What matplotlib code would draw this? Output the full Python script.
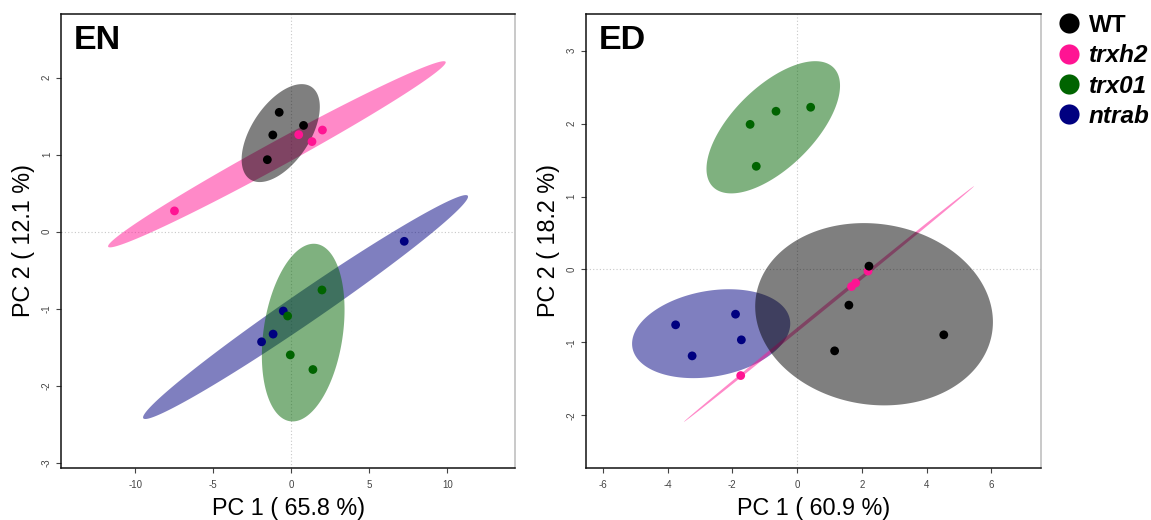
import numpy as np
import matplotlib
matplotlib.use("Agg")
import matplotlib.pyplot as plt
from matplotlib.patches import Polygon
from matplotlib.lines import Line2D

plt.rcParams['font.family'] = ['Liberation Sans', 'DejaVu Sans']
plt.rcParams['axes.unicode_minus'] = False

groups = ['WT', 'trxh2', 'trx01', 'ntrab']
group_colors = ['#000000', '#FF1493', '#006400', '#000080']

# EN: sample scores on the first two components
en_pc1 = {
    'WT':    [-0.78, 0.78, -1.19, -1.54],
    'trxh2': [-7.49, 0.47, 1.32, 1.99],
    'trx01': [1.96, -0.24, -0.07, 1.38],
    'ntrab': [7.23, -0.52, -1.17, -1.91],
}
en_pc2 = {
    'WT':    [1.55, 1.38, 1.256, 0.935],
    'trxh2': [0.27, 1.26, 1.17, 1.32],
    'trx01': [-0.757, -1.095, -1.60, -1.79],
    'ntrab': [-0.125, -1.03, -1.33, -1.43],
}

# ED: sample scores on the first two components
ed_pc1 = {
    'WT':    [2.22, 1.60, 1.16, 4.53],
    'trxh2': [-1.74, 1.68, 1.81, 2.19],
    'trx01': [-1.45, -0.65, 0.42, -1.26],
    'ntrab': [-3.75, -1.90, -1.72, -3.24],
}
ed_pc2 = {
    'WT':    [0.045, -0.49, -1.117, -0.897],
    'trxh2': [-1.456, -0.235, -0.185, -0.023],
    'trx01': [1.99, 2.17, 2.225, 1.415],
    'ntrab': [-0.76, -0.614, -0.966, -1.186],
}

en_var = [65.8, 12.1]
ed_var = [60.9, 18.2]

colors = dict(zip(groups, group_colors))
T95 = np.sqrt(-2.0 * np.log(0.05))  # sqrt(qchisq(0.95, 2))


def conf_ellipse(x, y, t=T95, n=300):
    x = np.asarray(x, float)
    y = np.asarray(y, float)
    cov = np.cov(x, y)
    sx, sy = np.sqrt(np.diag(cov))
    r = np.clip(cov[0, 1] / (sx * sy), -1, 1)
    d = np.arccos(r)
    a = np.linspace(0, 2 * np.pi, n)
    ex = t * sx * np.cos(a + d / 2) + x.mean()
    ey = t * sy * np.cos(a - d / 2) + y.mean()
    return np.column_stack([ex, ey])


def draw_panel(ax, pc1, pc2, var, title, xlim, ylim, xticks, yticks):
    ax.axhline(0, color='#c8c8c8', ls=(0, (1, 2)), lw=0.8, zorder=0)
    ax.axvline(0, color='#c8c8c8', ls=(0, (1, 2)), lw=0.8, zorder=0)
    for g in ['ntrab', 'trxh2', 'WT', 'trx01']:
        poly = Polygon(conf_ellipse(pc1[g], pc2[g]), closed=True,
                       facecolor=colors[g], edgecolor='none',
                       alpha=0.5, zorder=2)
        ax.add_patch(poly)
    for g in ['ntrab', 'trxh2', 'trx01', 'WT']:
        ax.scatter(pc1[g], pc2[g], s=40, color=colors[g], edgecolor='none',
                   zorder=4)
    ax.set_xlim(*xlim)
    ax.set_ylim(*ylim)
    ax.set_xticks(xticks)
    ax.set_yticks(yticks)
    ax.tick_params(axis='both', labelsize=7, colors='#444444', length=3.6,
                   width=0.8)
    ax.tick_params(axis='x', pad=5)
    ax.tick_params(axis='y', pad=3)
    for lab in ax.get_yticklabels():
        lab.set_rotation(90)
        lab.set_va('center')
    ax.set_xlabel(f'PC 1 ( {var[0]} %)', fontsize=16.8, labelpad=5)
    ax.set_ylabel(f'PC 2 ( {var[1]} %)', fontsize=16.8, labelpad=5)
    for side in ['left', 'bottom', 'top']:
        ax.spines[side].set_color('#111111')
        ax.spines[side].set_linewidth(1.1)
    ax.spines['right'].set_color('#bbbbbb')
    ax.spines['right'].set_linewidth(1.1)
    ax.text(0.028, 0.924, title, transform=ax.transAxes, fontsize=24.5,
            fontweight='bold', ha='left', va='baseline')


fig = plt.figure(figsize=(11.51, 5.2), dpi=100)
ax1 = fig.add_axes([0.05313, 0.10058, 0.39448, 0.87192])
ax2 = fig.add_axes([0.50904, 0.10058, 0.39505, 0.87192])

draw_panel(ax1, en_pc1, en_pc2, en_var, 'EN', (-14.75, 14.34), (-3.065, 2.823),
           [-10, -5, 0, 5, 10], [-3, -2, -1, 0, 1, 2])
draw_panel(ax2, ed_pc1, ed_pc2, ed_var, 'ED', (-6.52, 7.52), (-2.72, 3.50),
           [-6, -4, -2, 0, 2, 4, 6], [-2, -1, 0, 1, 2, 3])

handles = [Line2D([], [], ls='none', marker='o', markersize=14.5,
                  markerfacecolor=colors[g], markeredgecolor='none')
           for g in groups]
leg = fig.legend(handles, groups, loc='upper left',
                 bbox_to_anchor=(1057 / 1151, 1 - 14 / 520),
                 frameon=False, handlelength=1.0, handletextpad=0.3,
                 labelspacing=0.3, borderpad=0, borderaxespad=0,
                 prop={'size': 17.5, 'weight': 'bold'})
for i, txt in enumerate(leg.get_texts()):
    if groups[i] != 'WT':
        txt.set_style('italic')

fig.savefig('out.png', dpi=100)
